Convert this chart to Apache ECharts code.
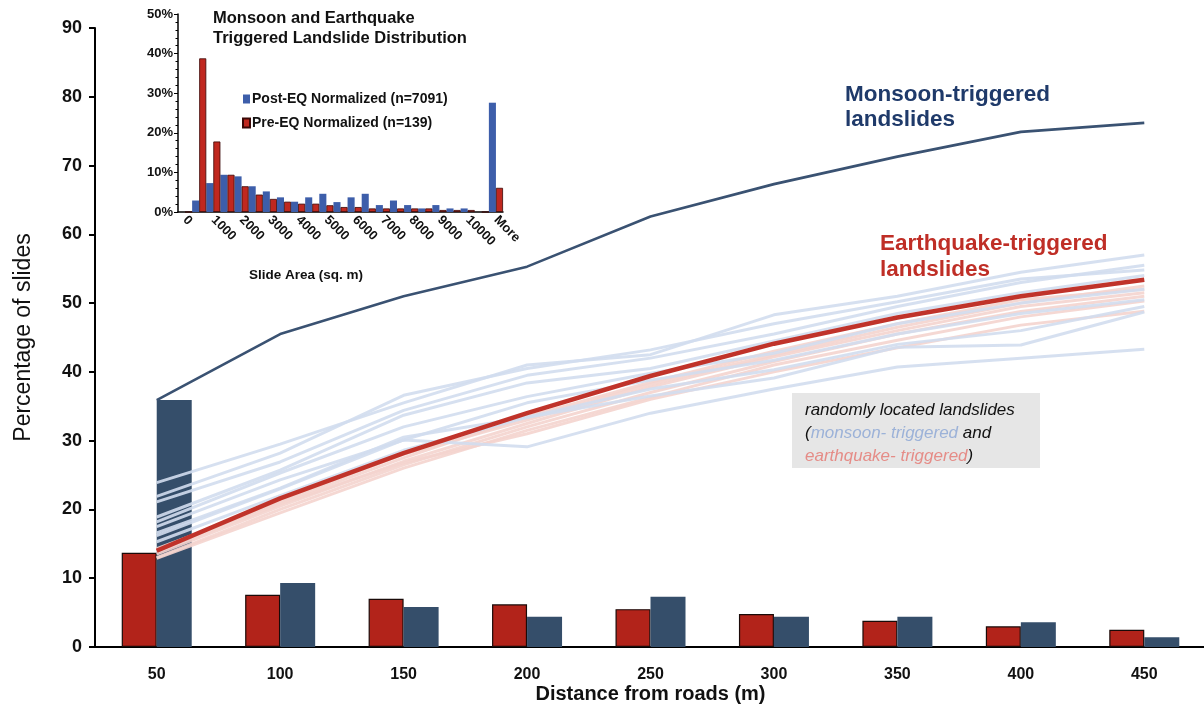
<!DOCTYPE html>
<html>
<head>
<meta charset="utf-8">
<script src="https://cdn.jsdelivr.net/npm/echarts@6/dist/echarts.min.js"></script>
<style>
html,body{margin:0;padding:0;background:#fff;overflow:hidden;}
#chart{width:1204px;height:704px;position:absolute;left:0;top:0;}
</style>
</head>
<body>
<div id="chart"></div>
<script>
// ---------- main chart data ----------
const distanceLabels = ['50','100','150','200','250','300','350','400','450'];
const yTicks = [0,10,20,30,40,50,60,70,80,90];
const eqBars = [13.7, 7.6, 7.0, 6.2, 5.5, 4.8, 3.8, 3.0, 2.5];
const monsoonBars = [35.9, 9.3, 5.8, 4.4, 7.3, 4.4, 4.4, 3.6, 1.4];
const monsoonCumulative = [35.9, 45.5, 51.0, 55.3, 62.6, 67.3, 71.3, 74.9, 76.2];
const eqCumulative = [14.0, 21.6, 28.2, 34.0, 39.4, 44.1, 47.9, 51.0, 53.4];

const randomMonsoon1 = [23.9, 29.5, 35.5, 41.0, 42.5, 48.3, 51.0, 54.5, 57.0];
const randomMonsoon2 = [21.9, 28.2, 36.6, 40.5, 43.2, 47.0, 50.2, 53.5, 54.8];
const randomMonsoon3 = [21.1, 26.9, 34.4, 39.5, 42.0, 45.5, 49.5, 53.0, 55.5];
const randomMonsoon4 = [18.9, 25.7, 33.7, 38.4, 40.5, 44.5, 48.5, 51.5, 54.0];
const randomMonsoon5 = [18.2, 25.3, 32.0, 36.4, 39.8, 42.7, 47.0, 50.0, 52.0];
const randomMonsoon6 = [17.5, 24.3, 30.1, 35.5, 38.8, 41.7, 45.5, 48.5, 50.5];
const randomMonsoon7 = [16.6, 23.1, 30.5, 33.4, 37.5, 40.3, 44.0, 46.0, 49.5];
const randomMonsoon8 = [15.3, 22.0, 28.6, 33.4, 36.5, 39.1, 43.6, 43.9, 48.7];
const randomMonsoon9 = [16.2, 23.0, 30.1, 29.1, 34.0, 37.5, 40.7, 42.0, 43.3];

const randomEq1 = [14.3, 21.0, 27.5, 33.5, 38.5, 43.0, 47.0, 50.5, 52.0];
const randomEq2 = [13.5, 20.5, 27.0, 32.5, 37.8, 42.2, 46.0, 49.5, 51.5];
const randomEq3 = [13.0, 20.0, 26.5, 32.0, 37.0, 41.5, 45.5, 48.8, 51.0];
const randomEq4 = [12.9, 19.5, 26.0, 31.5, 36.3, 41.0, 44.6, 48.0, 50.3];
const randomEq5 = [13.8, 20.8, 26.8, 31.0, 36.0, 40.0, 43.5, 46.8, 48.8];
const randomEq6 = [14.0, 21.3, 28.0, 33.0, 38.2, 42.5, 46.5, 50.0, 52.5];

// ---------- inset histogram data ----------
const areaBins = ['0','500','1000','1500','2000','2500','3000','3500','4000','4500','5000','5500','6000','6500','7000','7500','8000','8500','9000','9500','10000','10500','More'];
const postEQ = [0, 2.9, 7.3, 9.4, 9.0, 6.5, 5.2, 3.7, 2.6, 3.7, 4.6, 2.5, 3.7, 4.6, 1.75, 2.9, 1.75, 0.9, 1.75, 0.9, 0.9, 0, 27.6];
const preEQ  = [0, 38.8, 17.8, 9.4, 6.5, 4.4, 3.3, 2.6, 2.1, 2.1, 1.7, 1.25, 1.25, 0.9, 0.9, 0.9, 0.9, 0.9, 0.5, 0.5, 0.5, 0, 6.1];
const insetTicks = [0,10,20,30,40,50];

const FONT = 'Arial, "Liberation Sans", Helvetica, sans-serif';

const chart = echarts.init(document.getElementById('chart'), null, {renderer:'canvas', width:1204, height:704});

function lightLine(data, color, name){
  return {
    type:'line', name:name, xAxisIndex:0, yAxisIndex:0, data:data,
    symbol:'none', silent:true, z:3,
    lineStyle:{color:color, width:3}
  };
}

const series = [
  {type:'bar', name:'eqBars', xAxisIndex:0, yAxisIndex:0, data:eqBars, barWidth:35, barGap:'0%',
   itemStyle:{color:'#B2231A', borderColor:'#1a0a08', borderWidth:1.2}, z:2},
  {type:'bar', name:'monsoonBars', xAxisIndex:0, yAxisIndex:0, data:monsoonBars, barWidth:35, barGap:'0%',
   itemStyle:{color:'#354E6A'}, z:2}
];
[randomEq1,randomEq2,randomEq3,randomEq4,randomEq5,randomEq6].forEach((d,i)=>series.push(lightLine(d,'rgba(244,212,206,0.9)','eqr'+i)));
[randomMonsoon1,randomMonsoon2,randomMonsoon3,randomMonsoon4,randomMonsoon5,randomMonsoon6,randomMonsoon7,randomMonsoon8,randomMonsoon9].forEach((d,i)=>series.push(lightLine(d,'rgba(210,221,238,0.9)','mr'+i)));
series.push({type:'line', name:'eqCum', xAxisIndex:0, yAxisIndex:0, data:eqCumulative, symbol:'none', z:5,
  lineStyle:{color:'#C0332A', width:4.5}});
series.push({type:'line', name:'monsoonCum', xAxisIndex:0, yAxisIndex:0, data:monsoonCumulative, symbol:'none', z:5,
  lineStyle:{color:'#3A5272', width:2.6}});

series.push({type:'bar', name:'Post-EQ Normalized (n=7091)', xAxisIndex:1, yAxisIndex:1, data:postEQ,
  barGap:'0%', barCategoryGap:'0%', itemStyle:{color:'#3D5EAA'}, z:6});
series.push({type:'bar', name:'Pre-EQ Normalized (n=139)', xAxisIndex:1, yAxisIndex:1, data:preEQ,
  barGap:'0%', barCategoryGap:'0%', itemStyle:{color:'#C0281F', borderColor:'#3a0806', borderWidth:0.8}, z:6});

const option = {
  backgroundColor:'#fff',
  animation:false,
  grid:[
    {left:95, width:1111, top:28, bottom:57, outerBoundsMode:'none', containLabel:false},
    {left:178, width:325, top:14, height:198, outerBoundsMode:'none', containLabel:false}
  ],
  legend:{
    data:['Post-EQ Normalized (n=7091)','Pre-EQ Normalized (n=139)'],
    orient:'vertical', left:237, top:87, itemGap:10, itemWidth:7, itemHeight:9, icon:'rect',
    textStyle:{fontFamily:FONT, fontWeight:'bold', fontSize:14, color:'#111', padding:[0,0,0,-3]},
    selectedMode:false
  },
  xAxis:[
    {type:'category', gridIndex:0, data:distanceLabels,
     axisLine:{lineStyle:{color:'#000', width:2}}, axisTick:{show:false},
     axisLabel:{fontFamily:FONT, fontWeight:'bold', fontSize:16, color:'#111', margin:20},
     name:'Distance from roads (m)', nameLocation:'middle', nameGap:37, nameMoveOverlap:false,
     nameTextStyle:{fontFamily:FONT, fontWeight:'bold', fontSize:20, color:'#111'}},
    {type:'category', gridIndex:1, data:areaBins,
     axisLine:{lineStyle:{color:'#000', width:1.5}}, axisTick:{show:false},
     axisLabel:{interval:1, rotate:-45, fontFamily:FONT, fontWeight:'bold', fontSize:13, color:'#111', margin:6}}
  ],
  yAxis:[
    {type:'value', gridIndex:0, min:0, max:90, interval:10,
     axisLine:{show:true, lineStyle:{color:'#000', width:2}},
     axisTick:{show:true, length:6, lineStyle:{color:'#000', width:2}},
     splitLine:{show:false},
     axisLabel:{fontFamily:FONT, fontWeight:'bold', fontSize:18, color:'#111', margin:13},
     name:'Percentage of slides', nameLocation:'middle', nameGap:60, nameRotate:90, nameMoveOverlap:false,
     nameTextStyle:{fontFamily:FONT, fontSize:23, color:'#111'}},
    {type:'value', gridIndex:1, min:0, max:50, interval:10,
     axisLine:{show:true, lineStyle:{color:'#000', width:1.5}},
     axisTick:{show:true, length:4, lineStyle:{color:'#000', width:1}},
     minorTick:{show:true, splitNumber:5, length:2.5, lineStyle:{color:'#000', width:1}},
     splitLine:{show:false},
     axisLabel:{fontFamily:FONT, fontWeight:'bold', fontSize:13, color:'#111', margin:5, formatter:'{value}%'}}
  ],
  graphic:[
    {type:'text', x:213, y:18, style:{text:'Monsoon and Earthquake', font:'bold 16.5px '+FONT, fill:'#111', textVerticalAlign:'middle'}},
    {type:'text', x:213, y:38, style:{text:'Triggered Landslide Distribution', font:'bold 16.5px '+FONT, fill:'#111', textVerticalAlign:'middle'}},
    {type:'text', x:306, y:275, style:{text:'Slide Area (sq. m)', font:'bold 13.5px '+FONT, fill:'#111', textAlign:'center', textVerticalAlign:'middle'}},
    {type:'text', x:845, y:95, z:10, style:{text:'Monsoon-triggered', font:'bold 22.5px '+FONT, fill:'#1F3A6A', textVerticalAlign:'middle'}},
    {type:'text', x:845, y:120, z:10, style:{text:'landslides', font:'bold 22.5px '+FONT, fill:'#1F3A6A', textVerticalAlign:'middle'}},
    {type:'text', x:880, y:244, z:10, style:{text:'Earthquake-triggered', font:'bold 22.5px '+FONT, fill:'#BF2E26', textVerticalAlign:'middle'}},
    {type:'text', x:880, y:270, z:10, style:{text:'landslides', font:'bold 22.5px '+FONT, fill:'#BF2E26', textVerticalAlign:'middle'}},
    {type:'rect', shape:{x:792, y:393, width:248, height:75}, style:{fill:'#E6E6E6'}, z:10},
    {type:'text', x:805, y:399, z:11, style:{
      text:'{k|randomly located landslides}\n{k|(}{b|monsoon- triggered}{k| and}\n{r|earthquake- triggered}{k|)}',
      rich:{
        k:{font:'italic 17px '+FONT, fill:'#111', lineHeight:23},
        b:{font:'italic 17px '+FONT, fill:'#9CB2D8', lineHeight:23},
        r:{font:'italic 17px '+FONT, fill:'#E58C87', lineHeight:23}
      }
    }}
  ],
  series:series
};
chart.setOption(option);
</script>
</body>
</html>
